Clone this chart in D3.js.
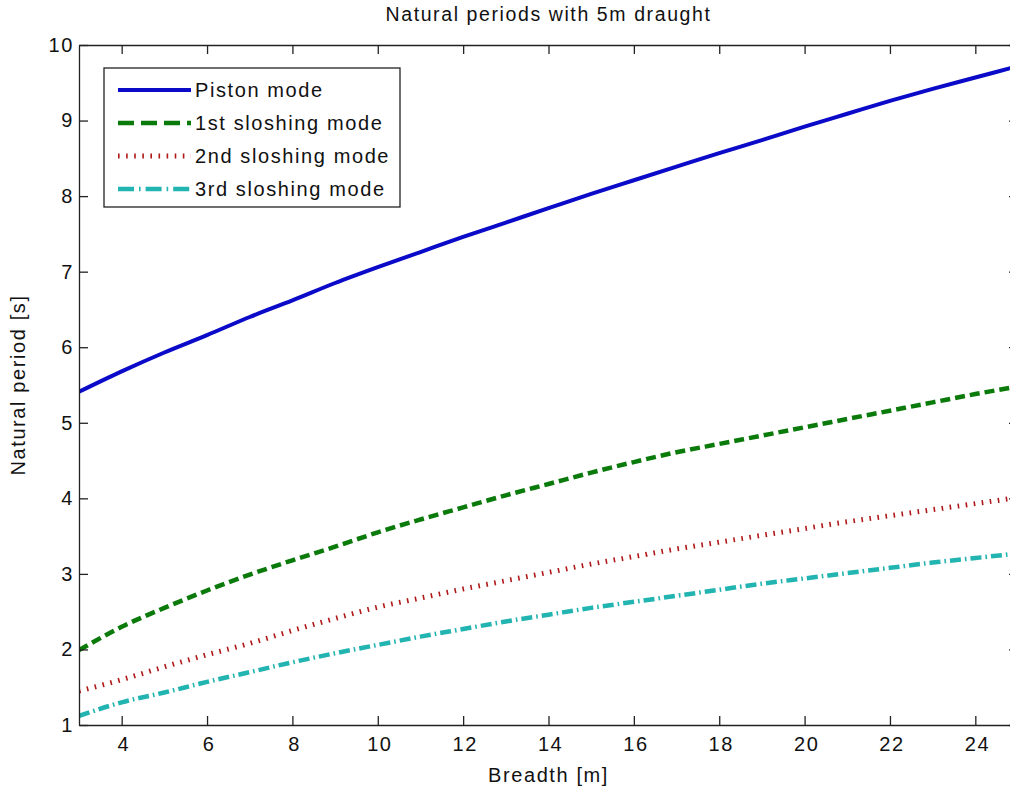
<!DOCTYPE html>
<html lang="en">
<head>
    <meta charset="UTF-8">
    <title>Natural periods with 5m draught</title>
    <script src="https://d3js.org/d3.v7.min.js"></script>
    <style>
        body {
            margin: 0;
            background: #fff;
        }

        svg text {
            font-family: "Liberation Sans", Arial, sans-serif;
            fill: #111;
            letter-spacing: 1.6px;
        }
    </style>
</head>
<body>
    <svg id="chart" width="1010" height="791"></svg>
    <script>
        // breadth [m] and the periods
        const breadth = d3.range(3, 26);
        const pistonMode = [5.41, 5.68, 5.93, 6.16, 6.40, 6.62, 6.85, 7.06, 7.26, 7.46, 7.65, 7.84,
            8.03, 8.21, 8.39, 8.57, 8.74, 8.92, 9.09, 9.26, 9.42, 9.57, 9.72];
        const slosh1 = [1.99, 2.30, 2.55, 2.78, 2.99, 3.18, 3.36, 3.55, 3.72, 3.88, 4.04, 4.19,
            4.34, 4.48, 4.61, 4.72, 4.83, 4.94, 5.05, 5.16, 5.27, 5.38, 5.48];
        const slosh2 = [1.45, 1.60, 1.77, 1.93, 2.08, 2.25, 2.41, 2.56, 2.68, 2.80, 2.91, 3.02,
            3.13, 3.23, 3.33, 3.42, 3.51, 3.60, 3.69, 3.77, 3.85, 3.93, 4.01];
        const slosh3 = [1.12, 1.30, 1.43, 1.57, 1.70, 1.83, 1.95, 2.06, 2.17, 2.27, 2.37, 2.46,
            2.55, 2.63, 2.71, 2.79, 2.87, 2.94, 3.01, 3.08, 3.15, 3.21, 3.27];
        const xTicks = [4, 6, 8, 10, 12, 14, 16, 18, 20, 22, 24];
        const yTicks = [1, 2, 3, 4, 5, 6, 7, 8, 9, 10];

        const series = [
            { name: "Piston mode", values: pistonMode, color: "#0a0ac8", width: 4, dash: null, legendDash: null },
            { name: "1st sloshing mode", values: slosh1, color: "#0a7a0a", width: 4.5, dash: "10,5", legendDash: "16,7" },
            { name: "2nd sloshing mode", values: slosh2, color: "#b01818", width: 5, dash: "1.6,6.5", legendDash: "1.6,6.5" },
            { name: "3rd sloshing mode", values: slosh3, color: "#22b4b0", width: 4.5, dash: "11,4,1.6,4", legendDash: "16,5,1.6,5" }
        ];

        const plotLeft = 79, plotRight = 1018, plotTop = 45, plotBottom = 725;
        const tickLen = 9;

        const svg = d3.select("#chart");

        const x = d3.scaleLinear().domain([3, 25]).range([plotLeft, plotRight]);
        const y = d3.scaleLinear().domain([1, 10]).range([plotBottom, plotTop]);

        svg.append("defs").append("clipPath").attr("id", "plotClip")
            .append("rect")
            .attr("x", plotLeft).attr("y", plotTop)
            .attr("width", plotRight - plotLeft).attr("height", plotBottom - plotTop);

        // curves
        const line = d3.line()
            .x((d, i) => x(breadth[i]))
            .y(d => y(d))
            .curve(d3.curveMonotoneX);

        svg.append("g").attr("clip-path", "url(#plotClip)")
            .selectAll("path")
            .data(series)
            .enter()
            .append("path")
            .attr("d", d => line(d.values))
            .attr("fill", "none")
            .attr("stroke", d => d.color)
            .attr("stroke-width", d => d.width)
            .attr("stroke-dasharray", d => d.dash);

        // axes, ticks pointing inward on all four sides
        const axisColor = "#222";
        svg.append("g")
            .attr("transform", `translate(0,${plotBottom})`)
            .call(d3.axisBottom(x).tickValues(xTicks).tickSizeInner(-tickLen).tickSizeOuter(0).tickPadding(12))
            .call(g => g.selectAll("text").attr("font-size", 20).attr("dx", "0.08em").attr("fill", "#111"));
        svg.append("g")
            .attr("transform", `translate(0,${plotTop})`)
            .call(d3.axisTop(x).tickValues(xTicks).tickSizeInner(-tickLen).tickSizeOuter(0).tickFormat(""));
        svg.append("g")
            .attr("transform", `translate(${plotLeft},0)`)
            .call(d3.axisLeft(y).tickValues(yTicks).tickSizeInner(-tickLen).tickSizeOuter(0).tickPadding(5))
            .call(g => g.selectAll("text").attr("font-size", 20).attr("fill", "#111"));
        svg.append("g")
            .attr("transform", `translate(${plotRight},0)`)
            .call(d3.axisRight(y).tickValues(yTicks).tickSizeInner(-tickLen).tickSizeOuter(0).tickFormat(""));

        svg.selectAll(".domain").attr("stroke", axisColor).attr("stroke-width", 1.3);
        svg.selectAll(".tick line").attr("stroke", axisColor).attr("stroke-width", 1.3);

        // titles
        svg.append("text")
            .attr("x", (plotLeft + plotRight) / 2).attr("y", 21)
            .attr("text-anchor", "middle").attr("font-size", 19.5)
            .text("Natural periods with 5m draught");
        svg.append("text")
            .attr("x", (plotLeft + plotRight) / 2).attr("y", 782)
            .attr("text-anchor", "middle").attr("font-size", 20)
            .text("Breadth [m]");
        svg.append("text")
            .attr("transform", `translate(25,${(plotTop + plotBottom) / 2}) rotate(-90)`)
            .attr("text-anchor", "middle").attr("font-size", 20)
            .text("Natural period [s]");

        // legend
        const legend = svg.append("g");
        legend.append("rect")
            .attr("x", 104).attr("y", 68)
            .attr("width", 296).attr("height", 139)
            .attr("fill", "#fff").attr("stroke", axisColor).attr("stroke-width", 1.3);

        const rows = legend.selectAll("g.row")
            .data(series)
            .enter()
            .append("g")
            .attr("class", "row")
            .attr("transform", (d, i) => `translate(0,${90 + i * 33})`);

        rows.append("line")
            .attr("x1", 118).attr("x2", 191)
            .attr("stroke", d => d.color)
            .attr("stroke-width", d => d.width)
            .attr("stroke-dasharray", d => d.legendDash);

        rows.append("text")
            .attr("x", 195).attr("dy", "0.35em")
            .attr("font-size", 20)
            .text(d => d.name);
    </script>
</body>
</html>
